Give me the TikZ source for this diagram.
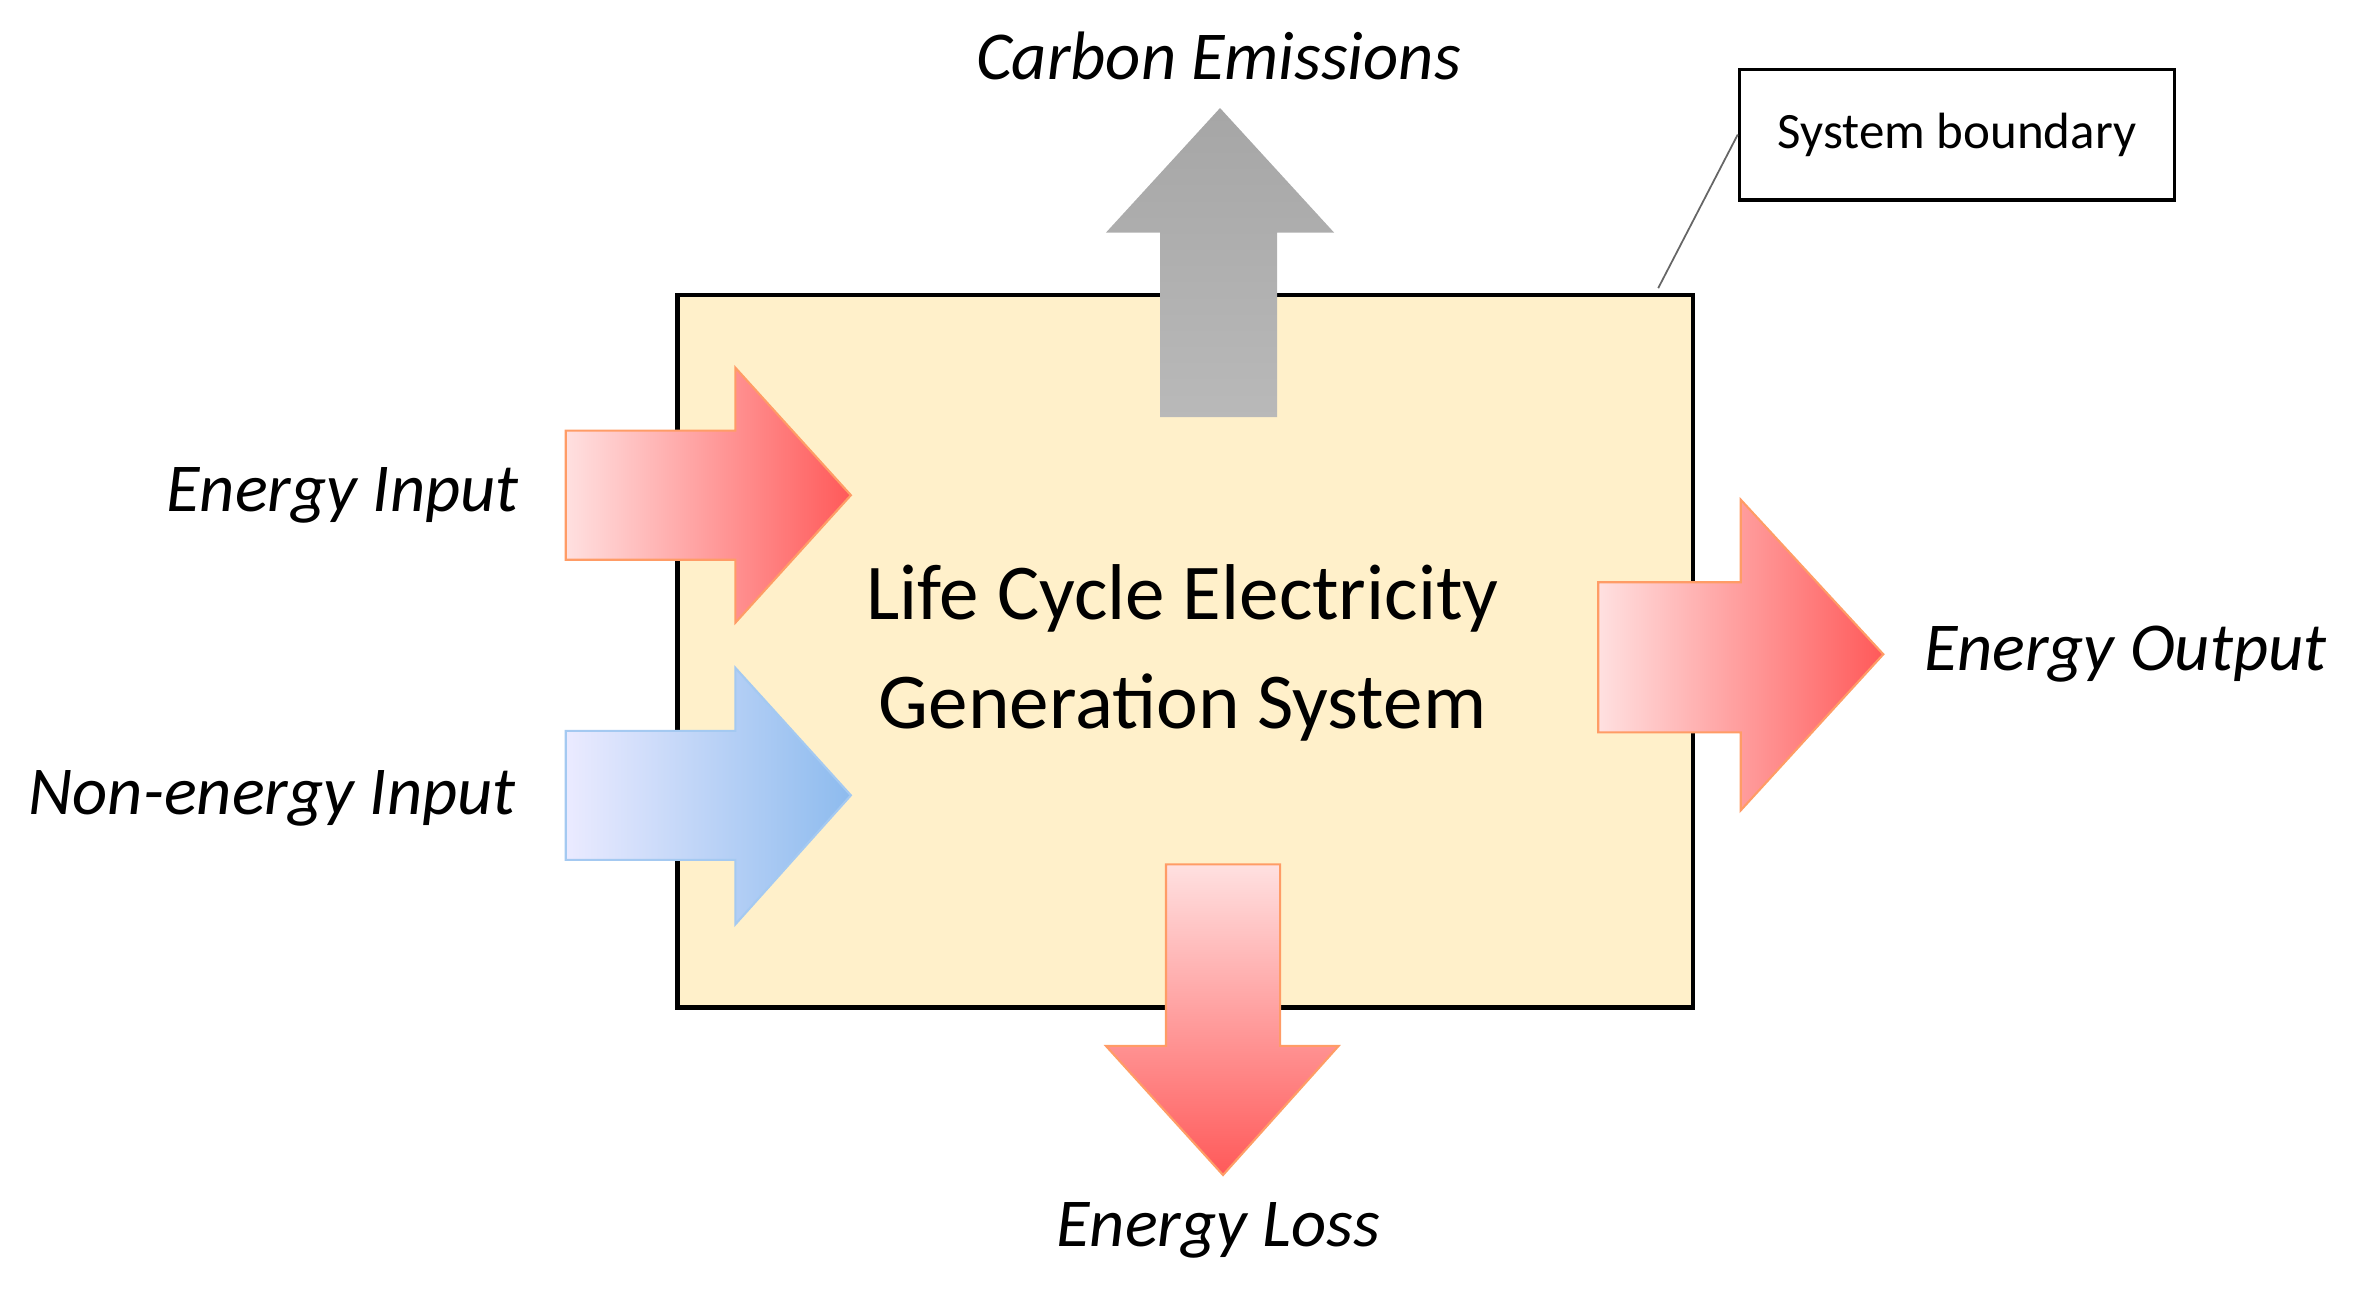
\documentclass[tikz,border=0pt]{standalone}
\usepackage{fontspec}
\setmainfont{Carlito}
\definecolor{boxfill}{HTML}{FFF0CA}
\definecolor{bluedark}{HTML}{8DBBEE}
\begin{document}
\begin{tikzpicture}[x=0.015cm,y=-0.015cm,
 lbl/.style={font=\fontsize{19.5}{22}\selectfont\itshape},
 redarr/.style={draw=orange!70!red!60,line width=0.6pt},
 bluearr/.style={draw=bluedark!80,line width=0.6pt}]
\useasboundingbox (0,0) rectangle (1568,862);
\node[draw=black,line width=1.2pt,fill=boxfill,minimum width=677*0.015cm,minimum height=475*0.015cm,inner sep=0,anchor=north west] (box) at (450,195) {};
\node[align=center,font=\fontsize{22.5}{31}\selectfont] (main) at (788,435) {Life Cycle Electricity\\Generation System};
% carbon
\shade[top color=gray!70,bottom color=gray!55] (773,278) -- (773,155) -- (737,155) -- (813,72) -- (889,155) -- (851,155) -- (851,278) -- cycle;
\node[lbl] (carbon) at (812,37) {Carbon Emissions};
% energy input
\shade[left color=red!12,right color=red!65,redarr] (377,287) -- (490,287) -- (490,245) -- (567,330) -- (490,415) -- (490,373) -- (377,373) -- cycle;
\node[lbl,anchor=east] (ein) at (354,330) {Energy Input};
% non-energy
\shade[left color=blue!8,right color=bluedark,bluearr] (377,487) -- (490,487) -- (490,445) -- (567,530) -- (490,616) -- (490,573) -- (377,573) -- cycle;
\node[lbl,anchor=east] (nin) at (352,532) {Non-energy Input};
% output
\shade[left color=red!12,right color=red!65,redarr] (1065,388) -- (1160,388) -- (1160,333) -- (1255,436) -- (1160,540) -- (1160,488) -- (1065,488) -- cycle;
\node[lbl,anchor=west] (eout) at (1274,436) {Energy Output};
% loss
\shade[top color=red!12,bottom color=red!65,redarr] (777,576) -- (853,576) -- (853,697) -- (892,697) -- (815,783) -- (737,697) -- (777,697) -- cycle;
\node[lbl] (eloss) at (812,820) {Energy Loss};
% system boundary
\node[draw=black,line width=1pt,minimum width=290*0.015cm,minimum height=87*0.015cm,inner sep=0,anchor=north west,font=\fontsize{14.5}{16}\selectfont] (sb) at (1158,45) {System boundary};
\coordinate (sbc) at (1105,192);
\draw[gray!80!black,line width=0.5pt] (sb.west) -- (sbc);
\end{tikzpicture}
\end{document}
